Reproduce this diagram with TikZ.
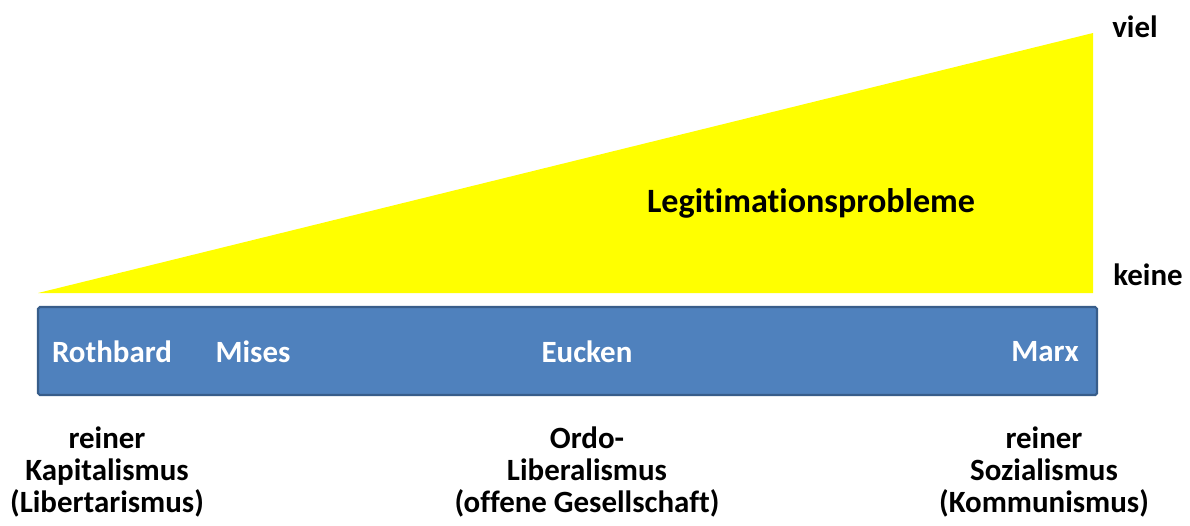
\documentclass[tikz,border=0pt]{standalone}
\usepackage{fontspec}
\setmainfont{Carlito}[Ligatures=NoCommon]
\usetikzlibrary{positioning}
\definecolor{wedge}{RGB}{255,255,0}
\definecolor{barblue}{HTML}{4F81BD}
\definecolor{barline}{HTML}{385D8A}
\begin{document}
\begin{tikzpicture}[x=0.02cm, y=-0.02cm]
    \tikzstyle{every node} = [inner sep=0pt, font=\bfseries\fontsize{17.6}{18}\selectfont]
    \tikzstyle{thinker} = [text=white]
    \tikzstyle{pole} = [align=center]
    \useasboundingbox (0, 0) rectangle (1190, 525);
    % wedge of the legitimation problems
    \fill [wedge] (38, 293) -- (1093, 293) -- (1093, 33) -- cycle;
    \node (legit) at (811, 203) {\fontsize{19.4}{20}\selectfont Legitimationsprobleme};
    \node (viel) at (1135, 27) {viel};
    \node (keine) at (1148, 275) {keine};
    % the scale
    \draw [fill=barblue, draw=barline, line width=1.2pt, rounded corners=1pt] (38, 307) rectangle (1097, 395);
    \node (rothbard) [thinker] at (112, 352) {Rothbard};
    \node (mises) [thinker] at (253, 352) {Mises};
    \node (eucken) [thinker] at (587, 352) {Eucken};
    \node (marx) [thinker] at (1045, 352) {Marx};
    % the poles below
    \node (kap) [pole] at (107, 472) {reiner\\Kapitalismus\\(Libertarismus)};
    \node (ordo) [pole] at (587, 472) {Ordo-\\Liberalismus\\(offene Gesellschaft)};
    \node (soz) [pole] at (1044, 472) {reiner\\Sozialismus\\(Kommunismus)};
\end{tikzpicture}
\end{document}
